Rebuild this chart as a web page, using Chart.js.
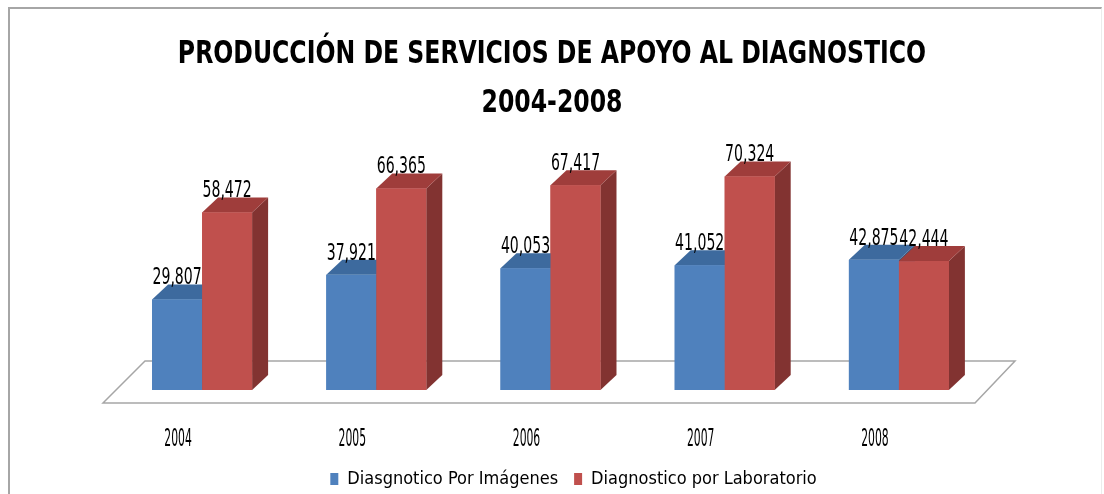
<!DOCTYPE html>
<html>
<head>
<meta charset="utf-8">
<script src="https://cdn.jsdelivr.net/npm/chart.js@4"></script>
<style>
  html, body { margin: 0; padding: 0; background: #fff; }
  #wrap { position: relative; width: 1104px; height: 494px; }
  #frame { position: absolute; left: 8px; top: 7px; right: 2px; bottom: -4px;
           border-top: 2px solid #a6a6a6; border-left: 2px solid #a6a6a6; border-right: 1px solid #ececec; }
  canvas { position: absolute; left: 0; top: 0; }
</style>
</head>
<body>
<div id="wrap">
  <div id="frame"></div>
  <canvas id="chart" width="1104" height="494"></canvas>
</div>
<script>
const years = ['2004', '2005', '2006', '2007', '2008'];
const imagenes = [29807, 37921, 40053, 41052, 42875];
const laboratorio = [58472, 66365, 67417, 70324, 42444];
const seriesNames = ['Diasgnotico Por Imágenes', 'Diagnostico por Laboratorio'];
const titleLines = ['PRODUCCIÓN DE SERVICIOS DE APOYO AL DIAGNOSTICO', '2004-2008'];

const FONT = "'DejaVu Sans Condensed', 'DejaVu Sans', sans-serif";
const frontColors = ['#4f81bd', '#c0504d'];
const topColors = ['#3d6a9e', '#9f3d3b'];
const sideColors = ['#2f5684', '#823331'];

// the original uses a tall narrow font, so squeeze text horizontally
function narrowText(ctx, text, x, y, font, sx) {
    ctx.save();
    ctx.font = font;
    ctx.fillStyle = '#000';
    ctx.textAlign = 'center';
    ctx.textBaseline = 'alphabetic';
    ctx.translate(x, y);
    ctx.scale(sx, 1);
    ctx.fillText(text, 0, 0);
    ctx.restore();
}

const bars3d = {
    id: 'bars3d',
    afterLayout(chart) {
        // legend sits a bit right of centre and lower in the original
        chart.legend.left += 23; chart.legend.right += 23;
        chart.legend.top += 4; chart.legend.bottom += 4;
    },
    beforeDatasetsDraw(chart) {
        const ctx = chart.ctx;
        const a = chart.chartArea;
        const base = chart.scales.y.getPixelForValue(0);
        ctx.save();
        ctx.beginPath();
        ctx.moveTo(a.left + 30, base - 29);
        ctx.lineTo(a.right + 29, base - 29);
        ctx.lineTo(a.right - 11, base + 13);
        ctx.lineTo(a.left - 12, base + 13);
        ctx.closePath();
        ctx.fillStyle = '#ffffff';
        ctx.fill();
        ctx.strokeStyle = '#a6a6a6';
        ctx.lineWidth = 1.5;
        ctx.stroke();
        ctx.restore();
    },
    afterDatasetsDraw(chart) {
        const ctx = chart.ctx;
        const dx = 16, dy = 15;
        ctx.save();
        years.forEach(function (_, i) {
            chart.data.datasets.forEach(function (ds, d) {
                const bar = chart.getDatasetMeta(d).data[i];
                const l = bar.x - bar.width / 2, r = bar.x + bar.width / 2;
                const t = bar.y, b = bar.base;
                ctx.fillStyle = sideColors[d];
                ctx.beginPath();
                ctx.moveTo(r, b); ctx.lineTo(r + dx, b - dy); ctx.lineTo(r + dx, t - dy); ctx.lineTo(r, t);
                ctx.closePath(); ctx.fill();
                ctx.fillStyle = topColors[d];
                ctx.beginPath();
                ctx.moveTo(l, t); ctx.lineTo(l + dx, t - dy); ctx.lineTo(r + dx, t - dy); ctx.lineTo(r, t);
                ctx.closePath(); ctx.fill();
                ctx.fillStyle = frontColors[d];
                ctx.fillRect(l, t, r - l, b - t);
            });
        });
        ctx.restore();

        // value labels
        chart.data.datasets.forEach(function (ds, d) {
            chart.getDatasetMeta(d).data.forEach(function (bar, i) {
                narrowText(ctx, ds.data[i].toLocaleString('en-US'), bar.x, bar.y - dy, '23px ' + FONT, 0.68);
            });
        });

        // category labels, under the front edge of the floor
        const xs = chart.scales.x;
        const base = chart.scales.y.getPixelForValue(0);
        years.forEach(function (y, i) {
            narrowText(ctx, y, xs.getPixelForValue(i) - 24, base + 56, '24px ' + FONT, 0.5);
        });

        // title
        const cx = (chart.width) / 2;
        narrowText(ctx, titleLines[0], cx, 63, 'bold 31.5px ' + FONT, 0.832);
        narrowText(ctx, titleLines[1], cx, 112, 'bold 31.5px ' + FONT, 0.832);
    }
};

new Chart(document.getElementById('chart'), {
    type: 'bar',
    data: {
        labels: years,
        datasets: [{
            label: seriesNames[0],
            data: imagenes,
            backgroundColor: frontColors[0],
            borderWidth: 0
        }, {
            label: seriesNames[1],
            data: laboratorio,
            backgroundColor: frontColors[1],
            borderWidth: 0
        }]
    },
    options: {
        responsive: false,
        animation: false,
        layout: { padding: { left: 115, right: 118, top: 147, bottom: 0 } },
        datasets: { bar: { barPercentage: 1, categoryPercentage: 0.574 } },
        scales: {
            x: {
                grid: { display: false, drawTicks: false },
                border: { display: false },
                ticks: { display: false },
                afterFit(scale) { scale.height = 60; }
            },
            y: { display: false, min: 0, max: 80000 }
        },
        plugins: {
            title: { display: false },
            legend: {
                position: 'bottom',
                labels: {
                    color: '#000',
                    font: { family: FONT, size: 18 },
                    boxWidth: 8, boxHeight: 12,
                    padding: 16
                }
            },
            tooltip: { enabled: false }
        }
    },
    plugins: [bars3d]
});
</script>
</body>
</html>
